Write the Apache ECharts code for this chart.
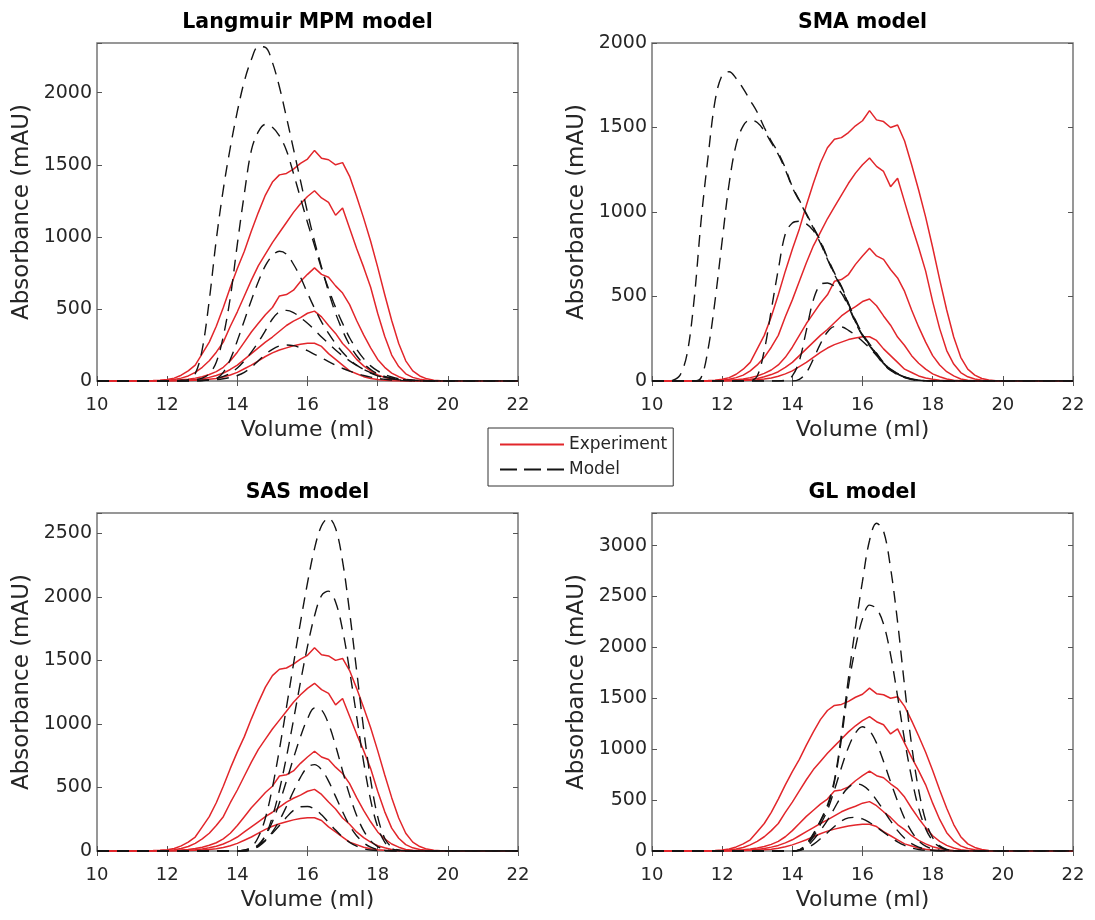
<!DOCTYPE html>
<html><head><meta charset="utf-8">
<script src="https://cdn.jsdelivr.net/npm/echarts@6/dist/echarts.min.js"></script>
<style>html,body{margin:0;padding:0;background:#fff}#c{width:1095px;height:920px}</style>
</head><body><div id="c"></div>
<script>
// ---------- DATA ----------
const volume = [10.0,10.2,10.4,10.6,10.8,11.0,11.2,11.4,11.6,11.8,
  12.0,12.2,12.4,12.6,12.8,13.0,13.2,13.4,13.6,13.8,
  14.0,14.2,14.4,14.6,14.8,15.0,15.2,15.4,15.6,15.8,
  16.0,16.2,16.4,16.6,16.8,17.0,17.2,17.4,17.6,17.8,
  18.0,18.2,18.4,18.6,18.8,19.0,19.2,19.4,19.6,19.8,
  20.0,22.0];

// Experiment (identical in all four panels)
const expA = [0,0,0,0,0,0,1,2,3,5, 10,20,40,70,110,190,270,380,510,650, 780,900,1040,1170,1290,1380,1430,1440,1470,1510, 1540,1600,1545,1535,1500,1515,1420,1280,1130,970, 790,600,420,260,140,70,35,15,6,2, 0,0];
const expB = [0,0,0,0,0,0,0,1,2,3, 5,10,20,35,60,95,140,200,270,380, 480,590,700,800,880,960,1030,1100,1170,1230, 1280,1320,1270,1240,1150,1200,1060,920,790,650, 470,310,180,100,50,25,12,5,2,0, 0,0];
const expC = [0,0,0,0,0,0,0,0,1,1, 2,4,8,12,20,30,45,65,95,140, 200,270,340,400,460,510,590,600,630,690, 740,785,740,720,660,610,530,420,320,230, 150,95,55,30,12,5,2,0,0,0, 0,0];
const expD = [0,0,0,0,0,0,0,0,0,1, 1,2,4,7,10,15,25,38,55,80, 110,150,190,230,270,305,345,385,415,440, 470,485,445,385,330,260,210,150,105,70, 42,25,12,5,2,0,0,0,0,0, 0,0];
const expE = [0,0,0,0,0,0,0,0,0,0, 1,1,2,3,5,8,12,18,28,42, 60,85,110,140,170,195,215,230,245,255, 262,262,240,190,150,110,70,50,30,18, 10,5,2,0,0,0,0,0,0,0, 0,0];

// Langmuir MPM model
const lmA = [0,0,0,0,0,0,0,0,0,0, 0,2,5,10,50,220,560,980,1330,1620, 1870,2080,2230,2320,2315,2210,2040,1830,1610,1390, 1170,970,790,620,470,350,250,175,120,80, 50,32,20,12,7,4,2,1,0,0, 0,0];
const lmB = [0,0,0,0,0,0,0,0,0,0, 0,0,1,3,8,20,50,130,310,580, 950,1300,1600,1730,1780,1760,1700,1600,1440,1270, 1100,940,780,640,510,400,300,220,155,105, 70,45,28,16,9,5,3,1,0,0, 0,0];
const lmC = [0,0,0,0,0,0,0,0,0,0, 0,0,0,0,0,2,6,15,60,150, 280,420,560,690,800,870,900,880,810,720, 610,505,410,330,260,200,150,110,80,55, 36,24,15,9,5,3,1,0,0,0, 0,0];
const lmD = [0,0,0,0,0,0,0,0,0,0, 0,0,1,2,3,5,10,18,32,55, 90,140,200,270,350,430,480,490,475,440, 400,355,305,260,215,175,140,108,80,58, 40,27,17,10,5,2,1,0,0,0, 0,0];
const lmE = [0,0,0,0,0,0,0,0,0,0, 0,0,0,1,2,3,6,10,16,25, 38,60,95,140,185,220,243,250,245,230, 210,185,160,135,110,88,68,52,38,27, 18,12,7,4,2,1,0,0,0,0, 0,0];

// SMA model
const smaA = [0,0,0,5,35,160,480,950,1330,1660, 1810,1830,1790,1730,1660,1590,1500,1420,1350,1260, 1150,1070,990,910,830,730,640,560,460,360, 280,220,165,110,70,45,25,12,5,2, 0,0,0,0,0,0,0,0,0,0, 0,0];
const smaB = [0,0,0,0,0,0,0,20,190,480, 830,1170,1400,1510,1545,1530,1480,1410,1340,1250, 1145,1065,985,905,825,725,635,555,455,355, 275,215,160,108,68,43,24,11,5,2, 0,0,0,0,0,0,0,0,0,0, 0,0];
const smaC = [0,0,0,0,0,0,0,0,0,0, 0,0,0,0,0,30,180,420,660,870, 935,945,930,890,815,720,630,550,450,350, 272,212,158,106,66,42,23,11,5,2, 0,0,0,0,0,0,0,0,0,0, 0,0];
const smaD = [0,0,0,0,0,0,0,0,0,0, 0,0,0,0,0,0,0,0,0,5, 30,120,300,480,570,580,560,520,440,345, 268,208,155,104,64,40,22,10,4,1, 0,0,0,0,0,0,0,0,0,0, 0,0];
const smaE = [0,0,0,0,0,0,0,0,0,0, 0,0,0,0,0,0,0,0,0,0, 0,10,50,130,220,290,322,320,300,270, 235,195,150,100,62,38,20,9,4,1, 0,0,0,0,0,0,0,0,0,0, 0,0];

// SAS model
const sasA = [0,0,0,0,0,0,0,0,0,0, 0,0,0,0,0,0,0,0,0,0, 0,8,30,110,260,500,800,1130,1470,1800, 2110,2380,2560,2620,2540,2280,1880,1420,960,560, 270,100,30,8,2,0,0,0,0,0, 0,0];
const sasB = [0,0,0,0,0,0,0,0,0,0, 0,0,0,0,0,0,0,0,0,0, 0,0,10,40,120,270,480,740,1030,1330, 1610,1850,2010,2045,1960,1740,1420,1060,700,400, 190,70,20,5,0,0,0,0,0,0, 0,0];
const sasC = [0,0,0,0,0,0,0,0,0,0, 0,0,0,0,0,0,0,0,0,0, 0,0,15,50,120,230,380,550,730,900, 1040,1125,1110,1000,830,630,440,280,160,80, 35,12,3,0,0,0,0,0,0,0, 0,0];
const sasD = [0,0,0,0,0,0,0,0,0,0, 0,0,0,0,0,0,0,0,0,0, 0,0,10,35,80,150,240,350,470,580, 660,680,640,550,430,310,200,120,65,30, 12,4,0,0,0,0,0,0,0,0, 0,0];
const sasE = [0,0,0,0,0,0,0,0,0,0, 0,0,0,0,0,0,0,0,0,0, 0,6,20,45,85,140,200,265,320,348, 350,330,285,225,165,110,68,38,18,8, 3,0,0,0,0,0,0,0,0,0, 0,0];

// GL model
const glA = [0,0,0,0,0,0,0,0,0,0, 0,0,0,0,0,0,0,0,0,0, 0,10,70,170,300,450,700,1150,1700,2200, 2650,3050,3220,3140,2780,2250,1620,1040,600,300, 130,50,15,4,0,0,0,0,0,0, 0,0];
const glB = [0,0,0,0,0,0,0,0,0,0, 0,0,0,0,0,0,0,0,0,0, 0,10,65,160,290,430,680,1100,1620,2000, 2280,2415,2380,2230,1930,1520,1090,720,420,220, 100,40,12,3,0,0,0,0,0,0, 0,0];
const glC = [0,0,0,0,0,0,0,0,0,0, 0,0,0,0,0,0,0,0,0,0, 0,8,55,140,260,400,600,820,1020,1160, 1220,1180,1060,880,680,490,320,190,100,48, 20,7,2,0,0,0,0,0,0,0, 0,0];
const glD = [0,0,0,0,0,0,0,0,0,0, 0,0,0,0,0,0,0,0,0,0, 0,6,40,110,200,300,420,540,625,660, 645,590,500,400,295,200,125,72,38,18, 7,2,0,0,0,0,0,0,0,0, 0,0];
const glE = [0,0,0,0,0,0,0,0,0,0, 0,0,0,0,0,0,0,0,0,0, 0,5,25,65,120,180,240,295,325,330, 315,280,235,185,135,90,55,30,15,6, 2,0,0,0,0,0,0,0,0,0, 0,0];

const panelTitles = ['Langmuir MPM model', 'SMA model', 'SAS model', 'GL model'];
const yAxisMax = [2345, 2000, 2660, 3320];
const experiments = [expA, expB, expC, expD, expE];
const modelSets = [[lmA, lmB, lmC, lmD, lmE], [smaA, smaB, smaC, smaD, smaE], [sasA, sasB, sasC, sasD, sasE], [glA, glB, glC, glD, glE]];

// ---------- LAYOUT / STYLE ----------
const layout = [{left: 97, top: 43}, {left: 652, top: 43}, {left: 97, top: 513}, {left: 652, top: 513}];
const W = 421, H = 338;
const FONT = '"DejaVu Sans", Verdana, sans-serif';
const TXT = '#262626';
const RED = '#e2262b';
const BLK = '#141414';

const grids = [], xAxes = [], yAxes = [], series = [], graphics = [];
layout.forEach((p, i) => {
  grids.push({left: p.left, top: p.top, width: W, height: H, show: true, borderColor: '#757575', borderWidth: 1.5, backgroundColor: '#fff', containLabel: false, outerBoundsMode: 'none'});
  const tick = {show: true, inside: true, length: 5, lineStyle: {color: '#555', width: 1}};
  xAxes.push({type: 'value', gridIndex: i, position: 'bottom', min: 10, max: 22, interval: 2,
    name: 'Volume (ml)', nameLocation: 'middle', nameGap: 38,
    nameTextStyle: {fontSize: 22, color: TXT, fontFamily: FONT},
    axisLine: {show: false}, axisTick: tick,
    axisLabel: {margin: 15, fontSize: 18, color: TXT, fontFamily: FONT},
    splitLine: {show: false}});
  xAxes.push({type: 'value', gridIndex: i, position: 'top', min: 10, max: 22, interval: 2,
    axisLine: {show: false}, axisTick: tick, axisLabel: {show: false}, splitLine: {show: false}});
  yAxes.push({type: 'value', gridIndex: i, position: 'left', min: 0, max: yAxisMax[i], interval: 500,
    name: 'Absorbance (mAU)', nameLocation: 'middle', nameGap: 63,
    nameTextStyle: {fontSize: 23, color: TXT, fontFamily: FONT},
    axisLine: {show: false}, axisTick: tick,
    axisLabel: {margin: 5, fontSize: 19, color: TXT, fontFamily: FONT,
      formatter: v => (v % 500 === 0 ? String(v) : '')},
    splitLine: {show: false}});
  yAxes.push({type: 'value', gridIndex: i, position: 'right', min: 0, max: yAxisMax[i], interval: 500,
    axisLine: {show: false}, axisTick: tick, axisLabel: {show: false}, splitLine: {show: false}});

  experiments.forEach(arr => {
    series.push({type: 'line', name: 'Experiment', xAxisIndex: 2 * i, yAxisIndex: 2 * i,
      data: volume.map((v, k) => [v, arr[k]]), symbol: 'none', smooth: false,
      lineStyle: {color: RED, width: 1.5}, itemStyle: {color: RED}, z: 2});
  });
  modelSets[i].forEach(arr => {
    series.push({type: 'line', name: 'Model', xAxisIndex: 2 * i, yAxisIndex: 2 * i,
      data: volume.map((v, k) => [v, arr[k]]), symbol: 'none', smooth: 0.35,
      lineStyle: {color: BLK, width: 1.4, type: [12, 8]}, itemStyle: {color: BLK}, z: 3});
  });

  graphics.push({type: 'text', x: p.left + W / 2, y: p.top - 20,
    style: {text: panelTitles[i], font: 'bold 20.5px ' + FONT, fill: '#000', textAlign: 'center', textVerticalAlign: 'middle'}});
});

const chart = echarts.init(document.getElementById('c'), null, {renderer: 'canvas'});
chart.setOption({
  animation: false,
  backgroundColor: '#fff',
  grid: grids, xAxis: xAxes, yAxis: yAxes, series: series,
  graphic: graphics,
  legend: {
    data: [
      {name: 'Experiment', icon: 'path://M0,0H64V2H0Z'},
      {name: 'Model', icon: 'path://M0,0H17V2H0Z M24,0H41V2H24Z M47,0H64V2H47Z'}
    ],
    orient: 'vertical', left: 488, top: 428,
    itemWidth: 64, itemHeight: 2, itemGap: 8, padding: [8, 6, 8, 12],
    borderColor: '#333', borderWidth: 1, backgroundColor: '#fff',
    textStyle: {fontSize: 17, color: TXT, fontFamily: FONT},
    selectedMode: false}
});
</script></body></html>
